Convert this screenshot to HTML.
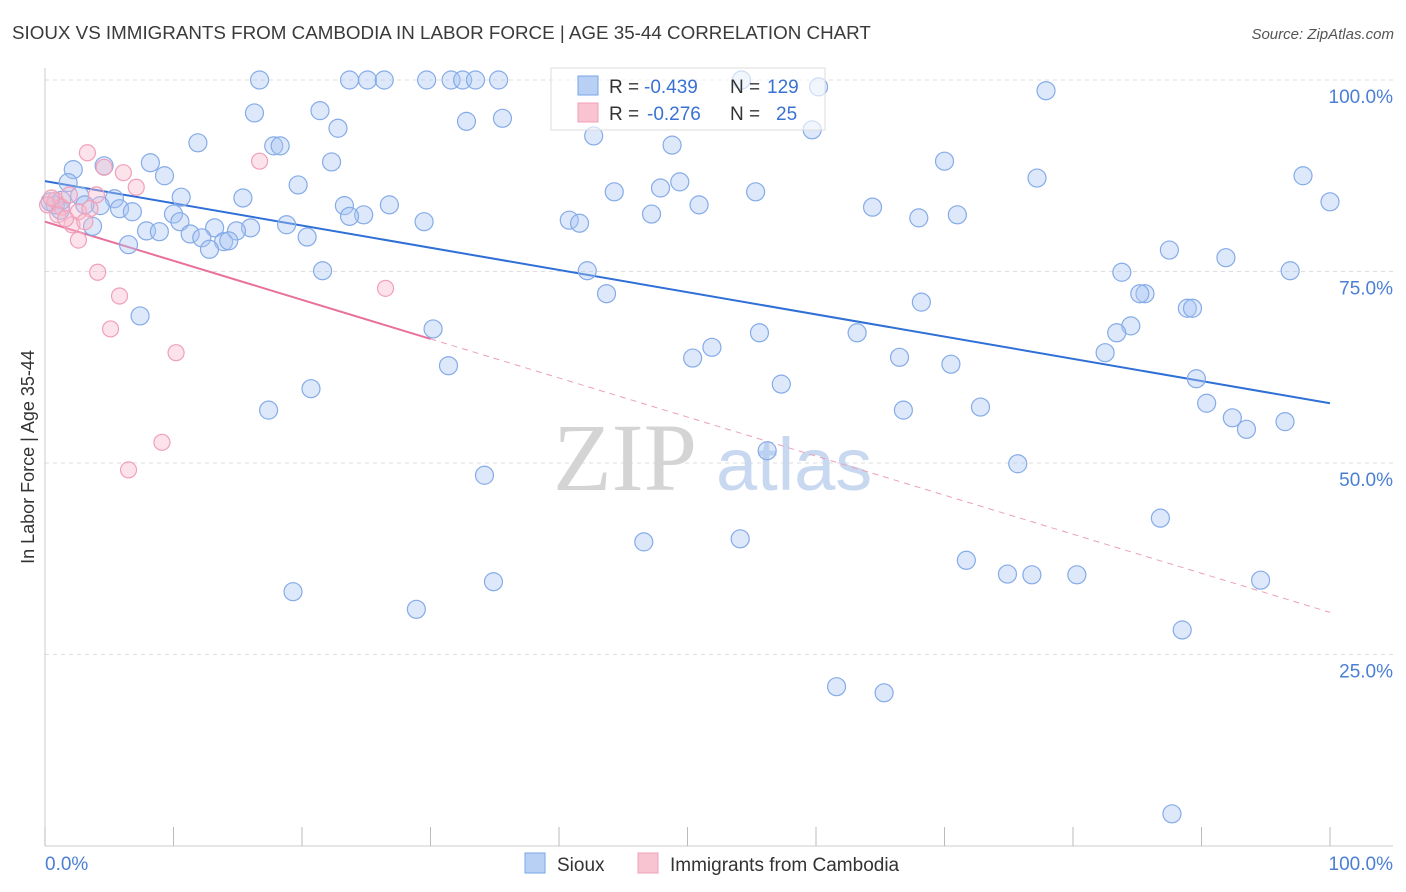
<!DOCTYPE html>
<html><head><meta charset="utf-8"><style>
body{margin:0;background:#fff;font-family:"Liberation Sans",sans-serif;}
#wrap{position:relative;width:1406px;height:892px;overflow:hidden;}
</style></head><body>
<div id="wrap">
<svg id="svg" width="1406" height="892" xmlns="http://www.w3.org/2000/svg">
<text x="12" y="39" font-size="18.8" fill="#3a3a3a">SIOUX VS IMMIGRANTS FROM CAMBODIA IN LABOR FORCE | AGE 35-44 CORRELATION CHART</text>
<text x="1394" y="39" font-size="15" fill="#555" font-style="italic" text-anchor="end">Source: ZipAtlas.com</text>
<text x="0" y="0" transform="translate(34,457) rotate(-90)" font-size="18" fill="#333" text-anchor="middle">In Labor Force | Age 35-44</text>
<g id="grid"></g>
<g>
<text x="553" y="490" font-size="96" font-family="Liberation Serif,serif" fill="#d4d4d4">ZIP</text>
<text x="716" y="490" font-size="74" fill="#c8d8f0">atlas</text>
</g>
<g id="lines"></g>
<g id="pts"></g>
<g>
<rect x="551" y="68" width="274" height="62" fill="rgba(255,255,255,0.6)" stroke="#ddd"/>
<rect x="578" y="76" width="20" height="19" fill="#b8d0f4" stroke="#7aa6e6"/>
<rect x="578" y="103" width="20" height="19" fill="#f9c4d2" stroke="#f0a0b8"/>
<text x="609" y="93" font-size="19" fill="#333">R =</text>
<text x="644" y="93" font-size="19" fill="#3a72d4">-0.439</text>
<text x="730" y="93" font-size="19" fill="#333">N =</text>
<text x="767" y="93" font-size="19" fill="#3a72d4">129</text>
<text x="609" y="120" font-size="19" fill="#333">R =</text>
<text x="647" y="120" font-size="19" fill="#3a72d4">-0.276</text>
<text x="730" y="120" font-size="19" fill="#333">N =</text>
<text x="776" y="120" font-size="19" fill="#3a72d4">25</text>
</g>
<g>
<rect x="525" y="853" width="20" height="20" fill="#b8d0f4" stroke="#7aa6e6"/>
<text x="557" y="871" font-size="19" fill="#333">Sioux</text>
<rect x="638" y="853" width="20" height="20" fill="#f9c4d2" stroke="#f0a0b8"/>
<text x="670" y="871" font-size="19" fill="#333">Immigrants from Cambodia</text>
</g>
</svg>
</div>
<script>
const yTicks=[25,50,75,100];
const yTickLabels=["25.0%","50.0%","75.0%","100.0%"];
const xTickCount=10;
const xLabels=["0.0%","100.0%"];
const siouxX=[16.7,23.7,25.1,26.4,29.7,31.6,32.5,33.5,35.3,54.2,60.2,77.9,16.3,21.4,32.8,35.6,22.8,42.7,59.7,11.9,17.8,18.3,48.8,4.6,8.2,22.3,70.0,2.2,9.3,19.7,1.8,77.2,97.9,44.3,49.4,47.9,55.3,10.6,15.4,2.7,5.4,100,23.3,26.8,50.9,64.4,5.8,6.8,24.8,23.7,29.5,47.2,40.8,41.6,68.0,71.0,10.0,4.3,1.2,10.5,3.7,18.8,16.0,13.2,7.9,8.9,11.3,12.2,20.4,14.9,13.9,14.3,12.8,6.5,87.5,91.9,21.6,42.2,83.8,96.9,43.7,85.6,85.2,68.2,88.9,89.3,7.4,30.2,84.5,83.4,55.6,63.2,51.9,50.4,66.5,82.5,31.4,70.5,57.3,89.6,20.7,17.4,66.8,72.8,90.4,92.4,93.5,96.5,56.2,75.7,34.2,86.8,46.6,54.1,71.7,74.9,76.8,80.3,94.6,34.9,19.3,28.9,88.5,61.6,65.3,87.7,0.8,0.4,1.3,3.1];
const siouxY=[100,100,100,100,100,100,100,100,100,100,99.1,98.6,95.7,96.0,94.6,95.0,93.7,92.7,93.5,91.8,91.4,91.4,91.5,88.8,89.2,89.3,89.4,88.3,87.5,86.3,86.6,87.2,87.5,85.4,86.7,85.9,85.4,84.7,84.6,84.9,84.5,84.1,83.6,83.7,83.7,83.4,83.2,82.8,82.4,82.2,81.5,82.5,81.7,81.3,82.0,82.4,82.5,83.6,83.0,81.5,80.9,81.1,80.7,80.7,80.3,80.2,79.9,79.4,79.5,80.3,78.9,79.0,77.9,78.5,77.8,76.8,75.1,75.1,74.9,75.1,72.1,72.1,72.1,71.0,70.2,70.2,69.2,67.5,67.9,67.0,67.0,67.0,65.1,63.7,63.8,64.4,62.7,62.9,60.3,61.0,59.7,56.9,56.9,57.3,57.8,55.9,54.4,55.4,51.6,49.9,48.4,42.8,39.7,40.1,37.3,35.5,35.4,35.4,34.7,34.5,33.2,30.9,28.2,20.8,20.0,4.2,83.7,84.1,84.3,83.7];
const cambX=[0.8,0.2,1.3,1.9,2.6,2.1,3.3,4.6,6.1,7.1,4.0,3.5,2.6,4.1,5.8,5.1,10.2,9.1,6.5,16.7,26.5,1.0,1.6,3.1,0.5];
const cambY=[84.3,83.7,83.4,85.0,82.8,81.1,90.5,88.6,87.9,86.0,85.0,83.2,79.1,74.9,71.8,67.5,64.4,52.7,49.1,89.4,72.8,82.4,81.9,81.5,84.6];
const siouxTrend=[86.8,57.8];
const cambTrend=[81.5,30.5];
const cambSolidEnd=30;

const X0=45,X1=1330,Y0=846,Y100=80;
const sx=v=>X0+(X1-X0)*v/100;
const sy=v=>Y0-(Y0-Y100)*v/100;
const NS="http://www.w3.org/2000/svg";
function mk(t,a,p){const e=document.createElementNS(NS,t);for(const k in a)e.setAttribute(k,a[k]);p.appendChild(e);return e;}
const grid=document.getElementById('grid');
yTicks.forEach((t,i)=>{
  const l=mk('line',{x1:45,x2:1393,y1:sy(t),y2:sy(t),stroke:'#ddd','stroke-dasharray':'4,4'},grid);
  
  
  const tx=mk('text',{x:1393,y:sy(t)+23,'font-size':19,fill:'#4a7fd4','text-anchor':'end'},grid);
  tx.textContent=yTickLabels[i];
  
  
});
let a=mk('line',{x1:45,x2:45,y1:68,y2:846,stroke:'#ccc'},grid);


a=mk('line',{x1:45,x2:1393,y1:846,y2:846,stroke:'#ccc'},grid);


for(let i=0;i<=xTickCount;i++){
  const x=sx(i*100/xTickCount);
  const t=mk('line',{x1:x,x2:x,y1:827,y2:846,stroke:'#bbb'},grid);
  
  
}
let t=mk('text',{x:45,y:870,'font-size':19,fill:'#4a7fd4'},grid);t.textContent=xLabels[0];


t=mk('text',{x:1393,y:870,'font-size':19,fill:'#4a7fd4','text-anchor':'end'},grid);t.textContent=xLabels[1];



const pts=document.getElementById('pts');
siouxX.forEach((x,i)=>{
  const c=mk('circle',{cx:sx(x),cy:sy(siouxY[i]),r:9,fill:'rgba(170,198,242,0.4)',stroke:'#85abe8','stroke-width':1.2},pts);
  
  
});
cambX.forEach((x,i)=>{
  const c=mk('circle',{cx:sx(x),cy:sy(cambY[i]),r:8,fill:'rgba(248,184,204,0.4)',stroke:'#f0a0b8','stroke-width':1.2},pts);
  
  
});
const lines=document.getElementById('lines');
const at=(tr,x)=>tr[0]+(tr[1]-tr[0])*x/100;
let l=mk('line',{x1:sx(0),y1:sy(siouxTrend[0]),x2:sx(100),y2:sy(siouxTrend[1]),stroke:'#2f6fd6','stroke-width':2},lines);


l=mk('line',{x1:sx(0),y1:sy(cambTrend[0]),x2:sx(cambSolidEnd),y2:sy(at(cambTrend,cambSolidEnd)),stroke:'#e8709a','stroke-width':2},lines);


l=mk('line',{x1:sx(cambSolidEnd),y1:sy(at(cambTrend,cambSolidEnd)),x2:sx(100),y2:sy(cambTrend[1]),stroke:'#eaa0b8','stroke-width':1,'stroke-dasharray':'6,5'},lines);


</script>
</body></html>
